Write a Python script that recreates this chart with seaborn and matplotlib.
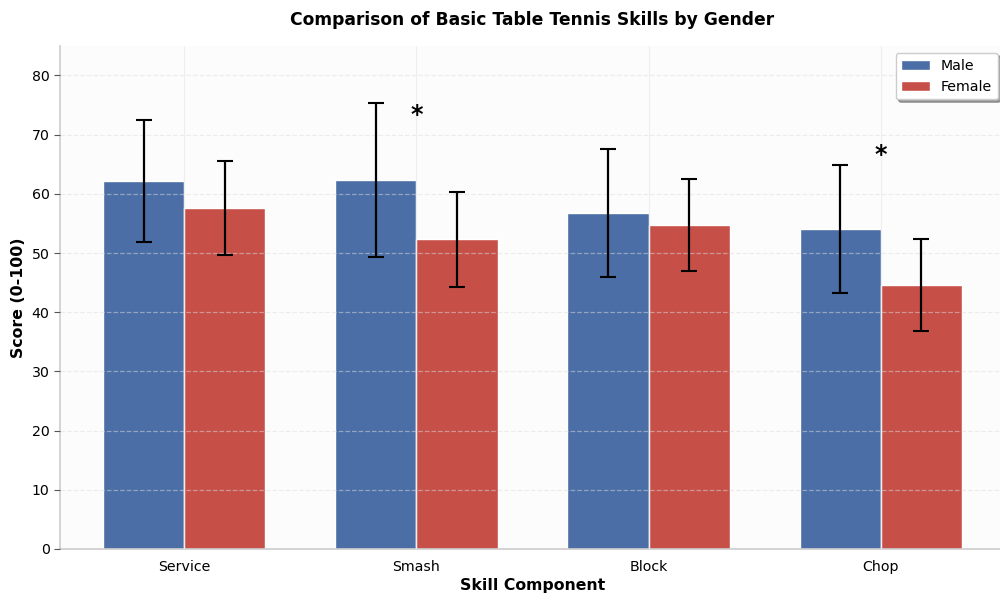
import numpy as np
import pandas as pd
import matplotlib
matplotlib.use("Agg")
import matplotlib.pyplot as plt
import seaborn as sns

skills = ["Service", "Smash", "Block", "Chop"]
male_mean = [62.2, 62.3, 56.7, 54.1]
male_sd = [10.3, 13.0, 10.8, 10.8]
female_mean = [57.6, 52.3, 54.7, 44.6]
female_sd = [7.9, 8.0, 7.8, 7.8]
significant = [False, True, False, True]
star_y = [None, 73.3, None, 66.5]

sns.set_style("white")
plt.rcParams["font.family"] = ["DejaVu Sans"]
plt.rcParams["text.color"] = "black"
plt.rcParams["axes.labelcolor"] = "black"
plt.rcParams["xtick.color"] = "black"
plt.rcParams["ytick.color"] = "black"

df = pd.DataFrame({
    "Skill": skills * 2,
    "Gender": ["Male"] * len(skills) + ["Female"] * len(skills),
    "Score": male_mean + female_mean,
})
sds = {"Male": male_sd, "Female": female_sd}

fig = plt.figure(figsize=(10, 5.96), dpi=100)
ax = fig.add_axes([0.06, 0.079, 0.945, 0.844])
ax.set_facecolor("#fcfcfc")

palette = {"Male": "#4a6ea5", "Female": "#c65048"}
sns.barplot(data=df, x="Skill", y="Score", hue="Gender", palette=palette,
            width=0.7, errorbar=None, edgecolor="white", linewidth=1.0,
            saturation=1, ax=ax, zorder=2)

# error bars at bar centres
for container, gender in zip(ax.containers, ["Male", "Female"]):
    for bar, sd in zip(container, sds[gender]):
        xc = bar.get_x() + bar.get_width() / 2
        ax.errorbar(xc, bar.get_height(), yerr=sd, fmt="none", ecolor="black",
                    elinewidth=1.6, capsize=6, capthick=1.5, zorder=4)

for i, (sig, sy) in enumerate(zip(significant, star_y)):
    if sig:
        ax.text(i, sy, "*", ha="center", va="center", fontsize=17,
                fontweight="bold", color="black", zorder=5)

ax.set_ylim(0, 85)
ax.set_yticks(range(0, 81, 10))
ax.grid(axis="y", linestyle="--", color="#dddddd", alpha=0.5, linewidth=0.9, zorder=3)
ax.grid(axis="x", linestyle="-", color="#eeeeee", linewidth=0.8, zorder=0)
ax.set_axisbelow(False)
for line in ax.get_xgridlines():
    line.set_zorder(0)

ax.set_title("Comparison of Basic Table Tennis Skills by Gender",
             fontsize=12.3, fontweight="bold", pad=15)
ax.set_xlabel("Skill Component", fontsize=11.3, fontweight="bold", labelpad=3)
ax.set_ylabel("Score (0-100)", fontsize=11.3, fontweight="bold", labelpad=4)
ax.tick_params(axis="both", labelsize=10.2, length=4, color="#555555")
ax.tick_params(axis="x", length=0, pad=8)
ax.tick_params(axis="y", left=True)

for s in ["top", "right"]:
    ax.spines[s].set_visible(False)
for s in ["left", "bottom"]:
    ax.spines[s].set_color("#cccccc")
    ax.spines[s].set_linewidth(1.2)

leg = ax.legend(loc="upper right", fontsize=10.2, frameon=True, fancybox=True,
                shadow=True, title=None)
leg.get_frame().set_edgecolor("#cccccc")

fig.savefig("out.png", dpi=100, facecolor="white")
